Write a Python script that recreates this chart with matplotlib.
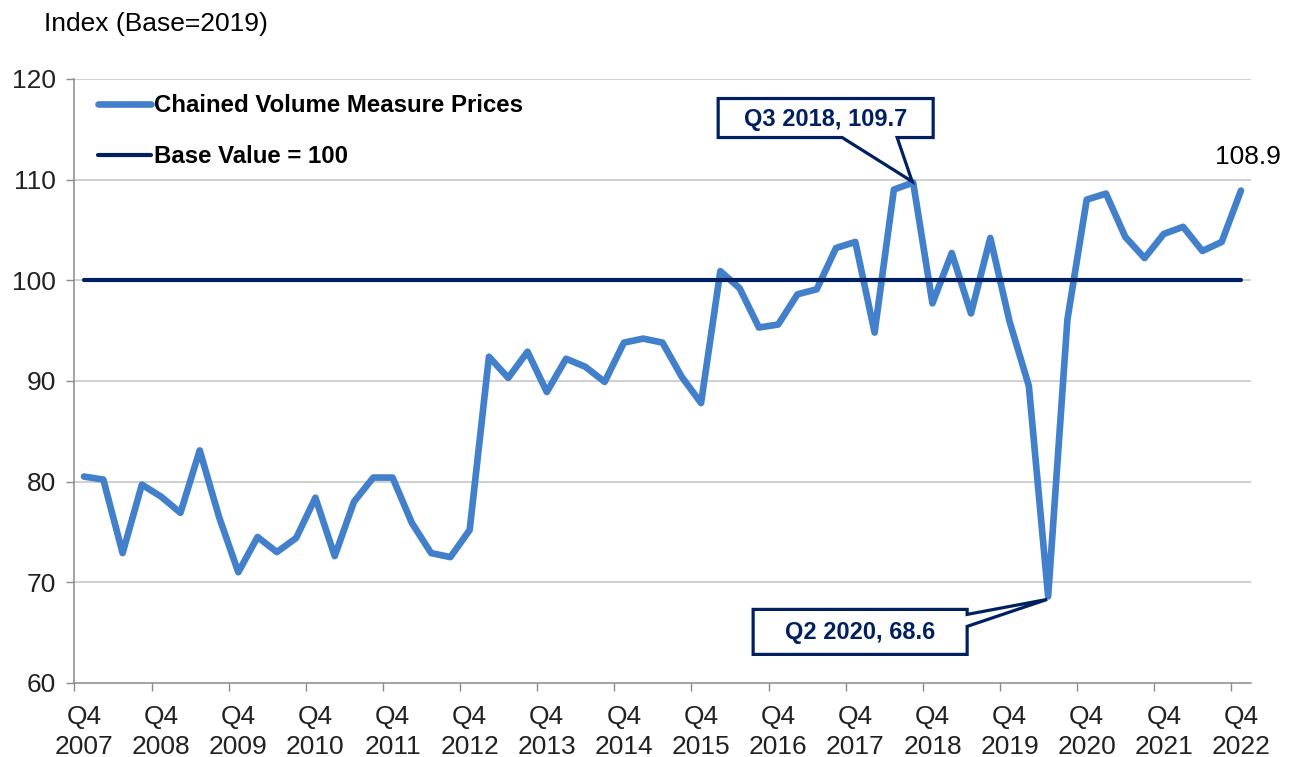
import matplotlib
matplotlib.use("Agg")
import matplotlib.pyplot as plt
from matplotlib.ticker import FixedLocator, NullFormatter
from matplotlib.patches import Polygon
from matplotlib.transforms import Affine2D, ScaledTranslation

# ---------------- data ----------------
quarters = ["Q4 2007"] + [f"Q{q} {y}" for y in range(2008, 2023) for q in (1, 2, 3, 4)]

cvm_prices = [80.5, 80.2, 72.9, 79.7, 78.5, 76.9, 83.1, 76.5, 71.0, 74.5,
              73.0, 74.4, 78.4, 72.6, 78.0, 80.4, 80.4, 75.9, 72.9, 72.5,
              75.2, 92.4, 90.3, 92.9, 88.9, 92.2, 91.4, 89.9, 93.8, 94.2,
              93.8, 90.4, 87.8, 100.9, 99.2, 95.3, 95.6, 98.6, 99.1, 103.2,
              103.8, 94.8, 109.0, 109.7, 97.7, 102.7, 96.7, 104.2, 95.9, 89.5,
              68.6, 96.1, 108.0, 108.6, 104.3, 102.2, 104.6, 105.3, 102.9, 103.8,
              108.9]

BASE_VALUE = 100

y_ticks = [60, 70, 80, 90, 100, 110, 120]
series_names = ["Chained Volume Measure Prices", "Base Value = 100"]
y_title = "Index (Base=2019)"

# ---------------- style ----------------
BLUE = "#4280CB"
NAVY = "#002060"
GRID = "#C4C4C4"
SPINE = "#8A8A8A"
TXT = "#222222"
FONT = "Liberation Sans"
plt.rcParams["font.family"] = [FONT, "DejaVu Sans"]

W, H = 1294, 757
fig = plt.figure(figsize=(W / 100, H / 100), dpi=100)
ax = fig.add_axes([74.4 / W, (H - 683) / H, (1250.6 - 74.4) / W, (683 - 78.8) / H])

x = list(range(len(quarters)))
ax.plot(x, cvm_prices, color=BLUE, lw=4.8, solid_joinstyle="round",
        solid_capstyle="round", zorder=3, label=series_names[0])
ax.plot(x, [BASE_VALUE] * len(x), color=NAVY, lw=3.0, solid_capstyle="round",
        zorder=4, label=series_names[1])

ax.set_xlim(-0.5, len(x) - 0.5)
ax.set_ylim(y_ticks[0], y_ticks[-1])

# y axis
ax.set_yticks(y_ticks)
ax.set_yticklabels([str(v) for v in y_ticks])
ax.tick_params(axis="y", length=5.5, width=1, color=SPINE, pad=8,
               labelsize=19, labelcolor=TXT)
for v in y_ticks[1:]:
    ax.axhline(v, color=GRID, lw=1.1, zorder=1)

# x axis: labels at every Q4, tick marks at category boundaries
label_pos = [i for i, q in enumerate(quarters) if q.startswith("Q4")]
ax.xaxis.set_major_locator(FixedLocator(label_pos))
ax.set_xticklabels([quarters[i].replace(" ", "\n") for i in label_pos])
ax.xaxis.set_minor_locator(FixedLocator([p - 0.5 for p in label_pos]))
ax.xaxis.set_minor_formatter(NullFormatter())
ax.tick_params(axis="x", which="major", length=0, pad=16, labelsize=19,
               labelcolor=TXT)
ax.tick_params(axis="x", which="minor", length=6, width=1, color=SPINE)
for lbl in ax.get_xticklabels():
    lbl.set_linespacing(1.3)

for s in ("top", "right"):
    ax.spines[s].set_visible(False)
for s in ("left", "bottom"):
    ax.spines[s].set_color(SPINE)
    ax.spines[s].set_linewidth(1.1)

# title
fig.text(44 / W, 1 - 24 / H, y_title, ha="left", va="center", fontsize=19,
         color="black")

# legend
leg = ax.legend(loc="upper left", bbox_to_anchor=(86 / W, 1 - 82 / H),
                bbox_transform=fig.transFigure, frameon=False, borderpad=0,
                handlelength=2.2, handletextpad=0.12, labelspacing=1.18,
                prop={"family": FONT, "weight": "bold", "size": 17.3})


# callouts (box + pointer outline, in pixel offsets from the data point)
def callout(xi, yv, text, outline, center):
    trans = Affine2D() + ScaledTranslation(xi, yv, ax.transData)
    ax.add_patch(Polygon(outline, closed=True, fc="white", ec=NAVY, lw=2.3,
                         joinstyle="miter", transform=trans, clip_on=False,
                         zorder=6))
    ax.annotate(text, xy=(xi, yv), xytext=center, textcoords="offset pixels",
                ha="center", va="center", fontsize=17, fontweight="bold",
                color=NAVY, zorder=7, annotation_clip=False)


i_max = cvm_prices.index(max(cvm_prices))
i_min = cvm_prices.index(min(cvm_prices))

# box 1 (above-left, pointer from bottom edge)
L1, R1, B1, T1 = -195, 20, 45, 84
callout(i_max, cvm_prices[i_max], f"{quarters[i_max]}, {cvm_prices[i_max]}",
        [(L1, B1), (-71, B1), (-1, 1), (-16, B1), (R1, B1), (R1, T1), (L1, T1)],
        ((L1 + R1) / 2, (B1 + T1) / 2 - 1))

# box 2 (left, pointer from right edge)
L2, R2, B2, T2 = -295, -81, -58, -13
callout(i_min, cvm_prices[i_min], f"{quarters[i_min]}, {cvm_prices[i_min]}",
        [(L2, B2), (R2, B2), (R2, -30), (-1, -3), (R2, -18), (R2, T2), (L2, T2)],
        ((L2 + R2) / 2, (B2 + T2) / 2 - 1))

# last value label
ax.annotate(f"{cvm_prices[-1]}", xy=(x[-1], cvm_prices[-1]), xytext=(7, 34),
            textcoords="offset pixels", ha="center", va="center", fontsize=19,
            color="black", annotation_clip=False)

fig.savefig("out.png", dpi=100)
